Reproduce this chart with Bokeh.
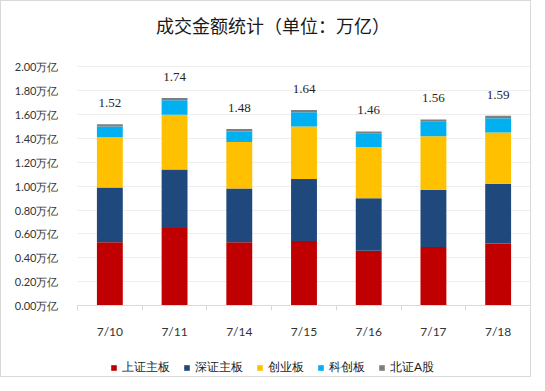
from bokeh.plotting import figure
from bokeh.layouts import column
from bokeh.models import (ColumnDataSource, FixedTicker, CustomJSTickFormatter, Range1d,
                          LabelSet, Label, Legend, LegendItem)
from bokeh.embed import file_html
from bokeh.resources import INLINE

# ---- data (万亿) ----
dates = ["7/10", "7/11", "7/14", "7/15", "7/16", "7/17", "7/18"]
sh_main = [0.53, 0.65, 0.53, 0.54, 0.46, 0.49, 0.52]   # 上证主板
sz_main = [0.46, 0.49, 0.45, 0.52, 0.44, 0.48, 0.50]   # 深证主板
chinext = [0.42, 0.46, 0.39, 0.44, 0.43, 0.45, 0.43]   # 创业板
star    = [0.09, 0.12, 0.09, 0.12, 0.11, 0.12, 0.12]   # 科创板
bse     = [0.02, 0.02, 0.02, 0.02, 0.02, 0.02, 0.02]   # 北证A股
series_names = ["上证主板", "深证主板", "创业板", "科创板", "北证A股"]
colors = ["#C00000", "#1F497D", "#FFC000", "#00B0F0", "#7F7F7F"]
y_ticks = [0.0, 0.2, 0.4, 0.6, 0.8, 1.0, 1.2, 1.4, 1.6, 1.8, 2.0]
title_text = "成交金额统计（单位：万亿）"

FONT = "Lato"
CJK = "Noto Sans CJK SC"

xs = list(range(len(dates)))
keys = ["s0", "s1", "s2", "s3", "s4"]
series_values = [sh_main, sz_main, chinext, star, bse]
totals = [round(sum(v), 2) for v in zip(*series_values)]
src = ColumnDataSource(dict(x=xs, s0=sh_main, s1=sz_main, s2=chinext, s3=star, s4=bse,
                            total=totals, label=[f"{t:.2f}" for t in totals]))

p = figure(width=529, height=354, output_backend="svg", toolbar_location=None,
           x_range=Range1d(-0.5, len(dates) - 0.5), y_range=Range1d(0, 2.549),
           min_border_left=76, min_border_right=0, min_border_top=0, min_border_bottom=50)
p.title.visible = False
p.outline_line_color = None
p.background_fill_color = "white"
p.border_fill_color = "white"

renderers = p.vbar_stack(keys, x="x", width=0.4, color=colors, source=src, line_color=None)

labels = LabelSet(x="x", y="total", text="label", source=src, y_offset=21,
                  text_align="center", text_baseline="middle",
                  text_font=FONT, text_font_size="13px", text_color="#262626")
p.add_layout(labels)

p.add_layout(Label(x=(len(dates) - 1) / 2, y=2.348, x_offset=-31, text=title_text,
                   text_align="center", text_baseline="middle",
                   text_font=CJK, text_font_size="18px", text_color="#1a1a1a"))

# y axis
p.yaxis.ticker = FixedTicker(ticks=y_ticks)
p.yaxis.formatter = CustomJSTickFormatter(code="return tick.toFixed(2) + '万亿';")
p.yaxis.axis_line_color = None
p.yaxis.major_tick_line_color = None
p.yaxis.minor_tick_line_color = None
p.yaxis.major_label_standoff = 13
p.yaxis.major_label_text_font = FONT
p.yaxis.major_label_text_font_size = "11px"
p.yaxis.major_label_text_color = "#333333"

# x axis
p.xaxis.ticker = FixedTicker(ticks=xs, minor_ticks=[i - 0.5 for i in range(len(dates) + 1)])
p.xaxis.major_label_overrides = {i: d for i, d in zip(xs, dates)}
p.xaxis.axis_line_color = "#d9d9d9"
p.xaxis.major_tick_out = 0
p.xaxis.major_tick_in = 0
p.xaxis.major_tick_line_color = None
p.xaxis.minor_tick_out = 5
p.xaxis.minor_tick_in = 0
p.xaxis.minor_tick_line_color = "#d9d9d9"
p.xaxis.major_label_standoff = 13
p.xaxis.major_label_text_font = FONT
p.xaxis.major_label_text_font_size = "12px"
p.xaxis.major_label_text_color = "#333333"

p.xgrid.grid_line_color = None
p.ygrid.grid_line_color = "#eeeeee"
p.ygrid.ticker = FixedTicker(ticks=y_ticks)

# legend strip (hidden copies of the series supply the legend swatches)
pl = figure(width=529, height=21, output_backend="svg", toolbar_location=None,
            x_range=Range1d(-0.5, len(dates) - 0.5), y_range=Range1d(0, 1),
            x_axis_location=None, y_axis_location=None,
            min_border_left=0, min_border_right=0, min_border_top=0, min_border_bottom=0)
pl.title.visible = False
pl.grid.grid_line_color = None
pl.outline_line_color = None
leg_renderers = []
for vals, c in zip(series_values, colors):
    r = pl.vbar(x=xs, top=vals, width=0.4, color=c, line_color=None)
    r.visible = False
    leg_renderers.append(r)
legend = Legend(items=[LegendItem(label=n, renderers=[r]) for n, r in zip(series_names, leg_renderers)],
                orientation="horizontal", location=(33, 0),
                glyph_width=7, glyph_height=7, label_standoff=5, spacing=13,
                padding=2, margin=0, border_line_color=None, background_fill_alpha=0,
                inactive_fill_alpha=0,
                label_text_font=FONT, label_text_font_size="12px", label_text_color="#1a1a1a")
pl.add_layout(legend)

layout = column(p, pl, spacing=0)
layout.styles = {"border": "1px solid #d9d9d9"}

open("out.html", "w").write(file_html(layout, INLINE))
